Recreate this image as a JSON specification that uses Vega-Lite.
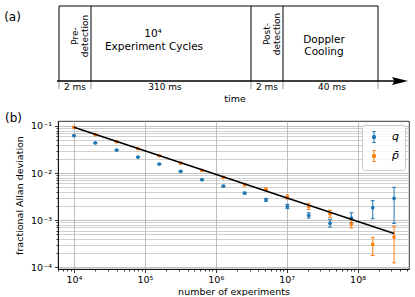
{
  "$schema": "https://vega.github.io/schema/vega-lite/v6.json",
  "padding": {"left": 4, "top": 5, "right": 5, "bottom": 0},
  "spacing": 7,
  "resolve": {"legend": {"color": "independent"}, "scale": {"color": "independent"}},
  "config": {
    "font": "DejaVu Sans",
    "view": {"stroke": null},
    "axis": {
      "labelFont": "DejaVu Sans", "labelFontSize": 9.5, "labelColor": "black",
      "titleFont": "DejaVu Sans", "titleFontSize": 9.5, "titleFontWeight": "normal", "titleColor": "black",
      "domainColor": "black", "domainWidth": 0.8, "tickColor": "black", "tickWidth": 0.8,
      "gridColor": "#b0b0b0", "gridWidth": 0.8
    }
  },
  "datasets": {
    "lines": [
      {"x": 1, "x2": 1, "y": 0, "y2": 75, "k": "box"},
      {"x": 33, "x2": 33, "y": 0, "y2": 75, "k": "box"},
      {"x": 193, "x2": 193, "y": 0, "y2": 75, "k": "box"},
      {"x": 225, "x2": 225, "y": 0, "y2": 75, "k": "box"},
      {"x": 320, "x2": 320, "y": 0, "y2": 75, "k": "box"},
      {"x": 1, "x2": 320, "y": 75, "y2": 75, "k": "box"},
      {"x": -1, "x2": 338, "y": 0, "y2": 0, "k": "axis"},
      {"x": 1, "x2": 1, "y": 0, "y2": -8, "k": "tick"},
      {"x": 33, "x2": 33, "y": 0, "y2": -8, "k": "tick"},
      {"x": 193, "x2": 193, "y": 0, "y2": -8, "k": "tick"},
      {"x": 225, "x2": 225, "y": 0, "y2": -8, "k": "tick"},
      {"x": 320, "x2": 320, "y": 0, "y2": -8, "k": "tick"}
    ],
    "arrow": [{"x": 342, "y": 0}],
    "labels": [
      {"x": 95, "y": 47, "t": "10⁴", "g": "big"},
      {"x": 96, "y": 34.5, "t": "Experiment Cycles", "g": "big"},
      {"x": 266, "y": 41.5, "t": "Doppler", "g": "big"},
      {"x": 266, "y": 29, "t": "Cooling", "g": "big"},
      {"x": 17, "y": 45, "t": "Pre-\ndetection", "g": "rot"},
      {"x": 209, "y": 47, "t": "Post-\ndetection", "g": "rot"},
      {"x": 17, "y": -6, "t": "2 ms", "g": "small"},
      {"x": 107, "y": -6, "t": "310 ms", "g": "small"},
      {"x": 209, "y": -6, "t": "2 ms", "g": "small"},
      {"x": 274, "y": -6, "t": "40 ms", "g": "small"},
      {"x": 177, "y": -18, "t": "time", "g": "time"},
      {"x": -45.5, "y": 64, "t": "(a)", "g": "tag"}
    ],
    "allan": [
      {"n": 10000, "s": "q", "v": 0.0622, "lo": 0.0620, "hi": 0.0624},
      {"n": 20000, "s": "q", "v": 0.0435, "lo": 0.0433, "hi": 0.0437},
      {"n": 40000, "s": "q", "v": 0.0308, "lo": 0.0306, "hi": 0.0310},
      {"n": 80000, "s": "q", "v": 0.0219, "lo": 0.0217, "hi": 0.0221},
      {"n": 160000, "s": "q", "v": 0.0155, "lo": 0.0153, "hi": 0.0157},
      {"n": 320000, "s": "q", "v": 0.0109, "lo": 0.0107, "hi": 0.0111},
      {"n": 640000, "s": "q", "v": 0.0072, "lo": 0.0070, "hi": 0.0074},
      {"n": 1280000, "s": "q", "v": 0.00528, "lo": 0.0051, "hi": 0.00546},
      {"n": 2560000, "s": "q", "v": 0.00375, "lo": 0.0036, "hi": 0.0039},
      {"n": 5120000, "s": "q", "v": 0.0027, "lo": 0.0025, "hi": 0.0029},
      {"n": 10240000, "s": "q", "v": 0.00195, "lo": 0.00175, "hi": 0.00216},
      {"n": 20480000, "s": "q", "v": 0.00126, "lo": 0.0011, "hi": 0.00143},
      {"n": 40960000, "s": "q", "v": 0.00086, "lo": 0.00071, "hi": 0.00104},
      {"n": 81920000, "s": "q", "v": 0.0011, "lo": 0.00088, "hi": 0.00143},
      {"n": 163840000, "s": "q", "v": 0.00183, "lo": 0.00107, "hi": 0.00258},
      {"n": 327680000, "s": "q", "v": 0.0029, "lo": 0.00085, "hi": 0.00497},
      {"n": 10000, "s": "p̄", "v": 0.0937, "lo": 0.0934, "hi": 0.0940},
      {"n": 20000, "s": "p̄", "v": 0.0653, "lo": 0.0650, "hi": 0.0656},
      {"n": 40000, "s": "p̄", "v": 0.0463, "lo": 0.0460, "hi": 0.0466},
      {"n": 80000, "s": "p̄", "v": 0.0329, "lo": 0.0326, "hi": 0.0332},
      {"n": 160000, "s": "p̄", "v": 0.0233, "lo": 0.0230, "hi": 0.0236},
      {"n": 320000, "s": "p̄", "v": 0.0163, "lo": 0.0160, "hi": 0.0166},
      {"n": 640000, "s": "p̄", "v": 0.0114, "lo": 0.0111, "hi": 0.0117},
      {"n": 1280000, "s": "p̄", "v": 0.0081, "lo": 0.0078, "hi": 0.0084},
      {"n": 2560000, "s": "p̄", "v": 0.00564, "lo": 0.00536, "hi": 0.00592},
      {"n": 5120000, "s": "p̄", "v": 0.0045, "lo": 0.0042, "hi": 0.0048},
      {"n": 10240000, "s": "p̄", "v": 0.00308, "lo": 0.0028, "hi": 0.0034},
      {"n": 20480000, "s": "p̄", "v": 0.00195, "lo": 0.00169, "hi": 0.00227},
      {"n": 40960000, "s": "p̄", "v": 0.00136, "lo": 0.00114, "hi": 0.00161},
      {"n": 81920000, "s": "p̄", "v": 0.00083, "lo": 0.00068, "hi": 0.00099},
      {"n": 163840000, "s": "p̄", "v": 0.000304, "lo": 0.000177, "hi": 0.00043},
      {"n": 327680000, "s": "p̄", "v": 0.000435, "lo": 0.000123, "hi": 0.00074}
    ],
    "fit": [
      {"n": 10000, "v": 0.094},
      {"n": 327680000, "v": 0.000519}
    ]
  },
  "vconcat": [
    {
      "width": 351,
      "height": 98,
      "view": {"stroke": null},
      "layer": [
        {
          "data": {"name": "lines"},
          "transform": [{"filter": "datum.k == 'box'"}],
          "mark": {"type": "rule", "color": "black", "strokeWidth": 1},
          "encoding": {
            "x": {"field": "x", "type": "quantitative", "scale": {"domain": [0, 351], "nice": false, "zero": false}, "axis": null},
            "x2": {"field": "x2"},
            "y": {"field": "y", "type": "quantitative", "scale": {"domain": [-23, 75], "nice": false, "zero": false}, "axis": null},
            "y2": {"field": "y2"}
          }
        },
        {
          "data": {"name": "lines"},
          "transform": [{"filter": "datum.k == 'tick'"}],
          "mark": {"type": "rule", "color": "#999999", "strokeWidth": 1},
          "encoding": {
            "x": {"field": "x", "type": "quantitative"},
            "x2": {"field": "x2"},
            "y": {"field": "y", "type": "quantitative"},
            "y2": {"field": "y2"}
          }
        },
        {
          "data": {"name": "lines"},
          "transform": [{"filter": "datum.k == 'axis'"}],
          "mark": {"type": "rule", "color": "black", "strokeWidth": 1.5},
          "encoding": {
            "x": {"field": "x", "type": "quantitative"},
            "x2": {"field": "x2"},
            "y": {"field": "y", "type": "quantitative"},
            "y2": {"field": "y2"}
          }
        },
        {
          "data": {"name": "arrow"},
          "mark": {"type": "point", "shape": "M-1,-0.5L1,0L-1,0.5L-0.7,0Z", "size": 256, "filled": true, "color": "black", "opacity": 1},
          "encoding": {
            "x": {"field": "x", "type": "quantitative"},
            "y": {"field": "y", "type": "quantitative"}
          }
        },
        {
          "data": {"name": "labels"},
          "transform": [{"filter": "datum.g == 'big'"}],
          "mark": {"type": "text", "fontSize": 10.5, "align": "center", "baseline": "middle", "color": "black"},
          "encoding": {
            "x": {"field": "x", "type": "quantitative"},
            "y": {"field": "y", "type": "quantitative"},
            "text": {"field": "t", "type": "nominal"}
          }
        },
        {
          "data": {"name": "labels"},
          "transform": [{"filter": "datum.g == 'rot'"}],
          "mark": {"type": "text", "fontSize": 9, "align": "center", "baseline": "middle", "angle": 270, "lineBreak": "\n", "lineHeight": 10, "color": "black"},
          "encoding": {
            "x": {"field": "x", "type": "quantitative"},
            "y": {"field": "y", "type": "quantitative"},
            "text": {"field": "t", "type": "nominal"}
          }
        },
        {
          "data": {"name": "labels"},
          "transform": [{"filter": "datum.g == 'small'"}],
          "mark": {"type": "text", "fontSize": 9, "align": "center", "baseline": "middle", "color": "black"},
          "encoding": {
            "x": {"field": "x", "type": "quantitative"},
            "y": {"field": "y", "type": "quantitative"},
            "text": {"field": "t", "type": "nominal"}
          }
        },
        {
          "data": {"name": "labels"},
          "transform": [{"filter": "datum.g == 'time'"}],
          "mark": {"type": "text", "fontSize": 9.5, "align": "center", "baseline": "middle", "color": "black"},
          "encoding": {
            "x": {"field": "x", "type": "quantitative"},
            "y": {"field": "y", "type": "quantitative"},
            "text": {"field": "t", "type": "nominal"}
          }
        },
        {
          "data": {"name": "labels"},
          "transform": [{"filter": "datum.g == 'tag'"}],
          "mark": {"type": "text", "fontSize": 12, "align": "center", "baseline": "middle", "color": "black"},
          "encoding": {
            "x": {"field": "x", "type": "quantitative"},
            "y": {"field": "y", "type": "quantitative"},
            "text": {"field": "t", "type": "nominal"}
          }
        }
      ]
    },
    {
      "width": 351,
      "height": 148,
      "title": {"text": "(b)", "anchor": "start", "frame": "group", "align": "left", "baseline": "middle", "offset": 1, "dx": -53, "dy": 10, "fontSize": 12, "fontWeight": "normal", "color": "black"},
      "view": {"stroke": "black", "strokeWidth": 0.8},
      "data": {"name": "allan"},
      "encoding": {
        "x": {
          "field": "n", "type": "quantitative",
          "scale": {"type": "log", "domain": [5957, 532000000], "nice": false},
          "axis": {
            "title": "number of experiments",
            "values": [6000, 7000, 8000, 9000, 10000, 20000, 30000, 40000, 50000, 60000, 70000, 80000, 90000, 100000, 200000, 300000, 400000, 500000, 600000, 700000, 800000, 900000, 1000000, 2000000, 3000000, 4000000, 5000000, 6000000, 7000000, 8000000, 9000000, 10000000, 20000000, 30000000, 40000000, 50000000, 60000000, 70000000, 80000000, 90000000, 100000000, 200000000, 300000000, 400000000, 500000000],
            "labelExpr": "abs(log(datum.value)/LN10 - round(log(datum.value)/LN10)) < 0.001 ? '10' + ['⁰','¹','²','³','⁴','⁵','⁶','⁷','⁸','⁹'][round(log(datum.value)/LN10)] : ''",
            "tickSize": {"condition": {"test": "abs(log(datum.value)/LN10 - round(log(datum.value)/LN10)) < 0.001", "value": 3.5}, "value": 2},
            "gridOpacity": {"condition": {"test": "abs(log(datum.value)/LN10 - round(log(datum.value)/LN10)) < 0.001", "value": 1}, "value": 0},
            "labelOverlap": false, "labelFlush": false, "labelPadding": 2, "titlePadding": 2
          }
        }
      },
      "layer": [
        {
          "mark": {"type": "rule", "strokeWidth": 1},
          "encoding": {
            "y": {
              "field": "lo", "type": "quantitative",
              "scale": {"type": "log", "domain": [0.0000912, 0.1276], "nice": false},
              "axis": {
                "title": "fractional Allan deviation",
                "values": [0.0001, 0.0002, 0.0003, 0.0004, 0.0005, 0.0006, 0.0007, 0.0008, 0.0009, 0.001, 0.002, 0.003, 0.004, 0.005, 0.006, 0.007, 0.008, 0.009, 0.01, 0.02, 0.03, 0.04, 0.05, 0.06, 0.07, 0.08, 0.09, 0.1],
                "labelExpr": "abs(log(datum.value)/LN10 - round(log(datum.value)/LN10)) < 0.001 ? '10⁻' + ['⁰','¹','²','³','⁴','⁵','⁶','⁷','⁸','⁹'][round(-log(datum.value)/LN10)] : ''",
                "tickSize": {"condition": {"test": "abs(log(datum.value)/LN10 - round(log(datum.value)/LN10)) < 0.001", "value": 3.5}, "value": 2},
                "gridOpacity": {"condition": {"test": "abs(log(datum.value)/LN10 - round(log(datum.value)/LN10)) < 0.001", "value": 1}, "value": 0.75},
                "labelOverlap": false, "labelFlush": false, "labelPadding": 3, "titlePadding": 6
              }
            },
            "y2": {"field": "hi"},
            "color": {
              "field": "s", "type": "nominal",
              "scale": {"domain": ["q", "p̄"], "range": ["#1f77b4", "#ff7f0e"]},
              "legend": {
                "title": null, "orient": "top-right", "offset": 4,
                "symbolType": "M0,-1L0,1M-0.3,-1L0.3,-1M-0.3,1L0.3,1M-0.25,-0.25L0.25,-0.25L0.25,0.25L-0.25,0.25Z",
                "symbolSize": 121, "symbolStrokeWidth": 1,
                "labelFont": "DejaVu Sans", "labelFontStyle": "italic", "labelFontSize": 11, "labelColor": "black", "labelOffset": 12,
                "padding": 6, "rowPadding": 3,
                "fillColor": "rgba(255,255,255,0.8)", "strokeColor": "#cccccc", "cornerRadius": 2,
                "encode": {"symbols": {"update": {"stroke": {"scale": "color", "field": "value"}, "fill": {"scale": "color", "field": "value"}, "strokeWidth": {"value": 1}, "opacity": {"value": 1}}}}
              }
            }
          }
        },
        {
          "mark": {"type": "tick", "orient": "horizontal", "size": 4, "thickness": 1, "opacity": 1},
          "encoding": {
            "y": {"field": "lo", "type": "quantitative"},
            "color": {"field": "s", "type": "nominal"}
          }
        },
        {
          "mark": {"type": "tick", "orient": "horizontal", "size": 4, "thickness": 1, "opacity": 1},
          "encoding": {
            "y": {"field": "hi", "type": "quantitative"},
            "color": {"field": "s", "type": "nominal"}
          }
        },
        {
          "mark": {"type": "point", "filled": true, "size": 14, "opacity": 1},
          "encoding": {
            "y": {"field": "v", "type": "quantitative"},
            "color": {"field": "s", "type": "nominal"}
          }
        },
        {
          "data": {"name": "fit"},
          "mark": {"type": "line", "color": "black", "strokeWidth": 1.5},
          "encoding": {
            "y": {"field": "v", "type": "quantitative"}
          }
        }
      ]
    }
  ]
}
